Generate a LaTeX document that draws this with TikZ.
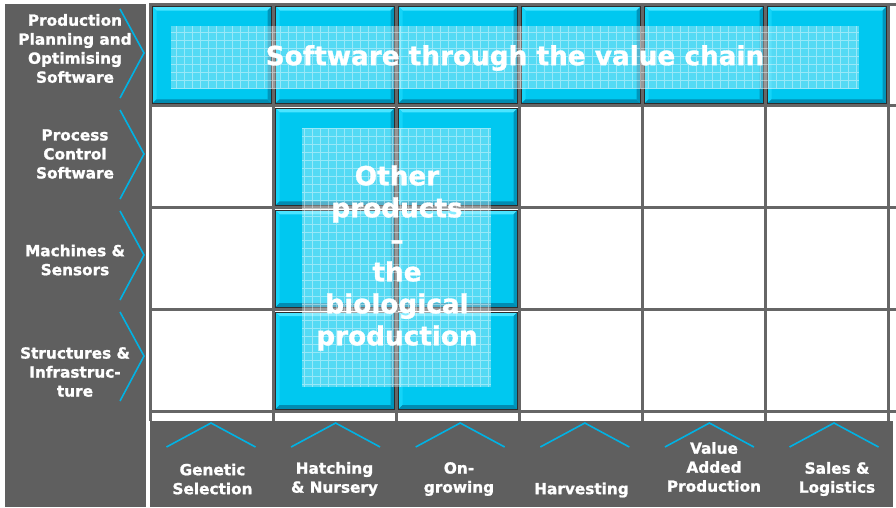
\documentclass[tikz,border=0pt]{standalone}
\usepackage{fontspec}
\setmainfont{DejaVu Sans}
\newfontfamily\heavyfont{DejaVu Sans Bold}[FakeBold=1.2]
\usepackage{tikz}
\usetikzlibrary{
	positioning
}
\definecolor{PanelGray}{RGB}{95,95,95}
\definecolor{GridGray}{RGB}{102,102,102}
\definecolor{CellBlue}{RGB}{0,200,240}
\definecolor{CellLight}{RGB}{75,228,255}
\definecolor{CellSide}{RGB}{20,212,248}
\definecolor{CellDark}{RGB}{0,140,178}
\definecolor{CellEdge}{RGB}{45,45,45}
\definecolor{ChevronBlue}{RGB}{0,178,228}

% beveled cyan cell: top left (#1,#2), bottom right (#3,#4)
\newcommand{\cellbox}[4]{%
	\fill[CellBlue] (#1,#2) rectangle (#3,#4);
	\fill[CellLight] (#1,#2) -- (#3,#2) -- (#3-4,#2+4) -- (#1+4,#2+4) -- cycle;
	\fill[CellSide] (#1,#2) -- (#1+4,#2+4) -- (#1+4,#4-4) -- (#1,#4) -- cycle;
	\fill[CellDark] (#1,#4) -- (#3,#4) -- (#3-4,#4-4) -- (#1+4,#4-4) -- cycle;
	\fill[CellDark!85!CellBlue] (#3,#2) -- (#3,#4) -- (#3-4,#4-4) -- (#3-4,#2+4) -- cycle;
	\draw[CellEdge, line width=0.8pt] (#1,#2) rectangle (#3,#4);
}

\begin{document}
\begin{tikzpicture}[x=1pt, y=-1pt,
		gridline/.style={GridGray, line width=3pt},
		chev/.style={ChevronBlue, line width=1.6pt},
		stagelabel/.style={text=white, font=\fontsize{15.3}{19}\selectfont\heavyfont, align=center, inner sep=0pt},
		bigtext/.style={text=white, font=\fontsize{26.3}{32}\selectfont\heavyfont, align=center, inner sep=0pt},
		mesh/.style={white, line width=.5pt, step=8pt}]
	\useasboundingbox (0,0) rectangle (896,507);
	\fill[white] (0,0) rectangle (896,507);
	% side panel and grid
	\fill[PanelGray] (5,4) rectangle (146,507);
	\foreach \c in {0,...,6}{
		\draw[gridline] (150.5+123*\c,4) -- (150.5+123*\c,421);
	}
	\foreach \r in {0,...,4}{
		\draw[gridline] (149,4+101.9*\r) -- (896,4+101.9*\r);
	}
	% software row
	\foreach \c in {0,...,5}{
		\cellbox{152.5+123*\c}{6.5}{271.5+123*\c}{103.4}
	}
	% biological production block
	\foreach \c in {1,2}{
		\foreach \r in {1,2,3}{
			\cellbox{152.5+123*\c}{6.5+101.9*\r}{271.5+123*\c}{103.4+101.9*\r}
		}
	}
	% washed mesh panels
	\begin{scope}[opacity=.33]
		\fill[white] (171,26) rectangle (859,89);
		\fill[white] (302,128) rectangle (491,387);
	\end{scope}
	\begin{scope}[opacity=.4]
		\draw[mesh] (171,26) grid (859,89);
		\draw[mesh] (302,128) grid (491,387);
	\end{scope}
	\node[bigtext] (chain) at (515,58) {Software through the value chain};
	\node[bigtext] (bio) at (397,258) {Other\\products\\\textendash\\the\\biological\\production};
	% row labels
	\foreach \r in {0,...,3}{
		\draw[chev] (120,9+101*\r) -- (144,53+101*\r) -- (120,98+101*\r);
	}
	\node[stagelabel] (planning) at (75,48.5) {Production\\Planning and\\Optimising\\Software};
	\node[stagelabel] (process) at (75,154) {Process\\Control\\Software};
	\node[stagelabel] (machines) at (75,260) {Machines \&\\Sensors};
	\node[stagelabel] (structures) at (75,372) {Structures \&\\Infrastruc-\\ture};
	% value chain stages
	\fill[PanelGray] (150,421) rectangle (893,507);
	\foreach \c in {0,...,5}{
		\draw[chev] (166.5+124.6*\c,447) -- (211+124.6*\c,423) -- (255.5+124.6*\c,447);
	}
	\node[stagelabel] (genetic) at (212.5,479) {Genetic\\Selection};
	\node[stagelabel] (hatching) at (334.5,479) {Hatching\\\& Nursery};
	\node[stagelabel] (ongrowing) at (459,479) {On-\\growing};
	\node[stagelabel] (harvesting) at (581.5,490) {Harvesting};
	\node[stagelabel] (added) at (714,467) {Value\\Added\\Production};
	\node[stagelabel] (sales) at (837,479) {Sales \&\\Logistics};
\end{tikzpicture}
\end{document}
